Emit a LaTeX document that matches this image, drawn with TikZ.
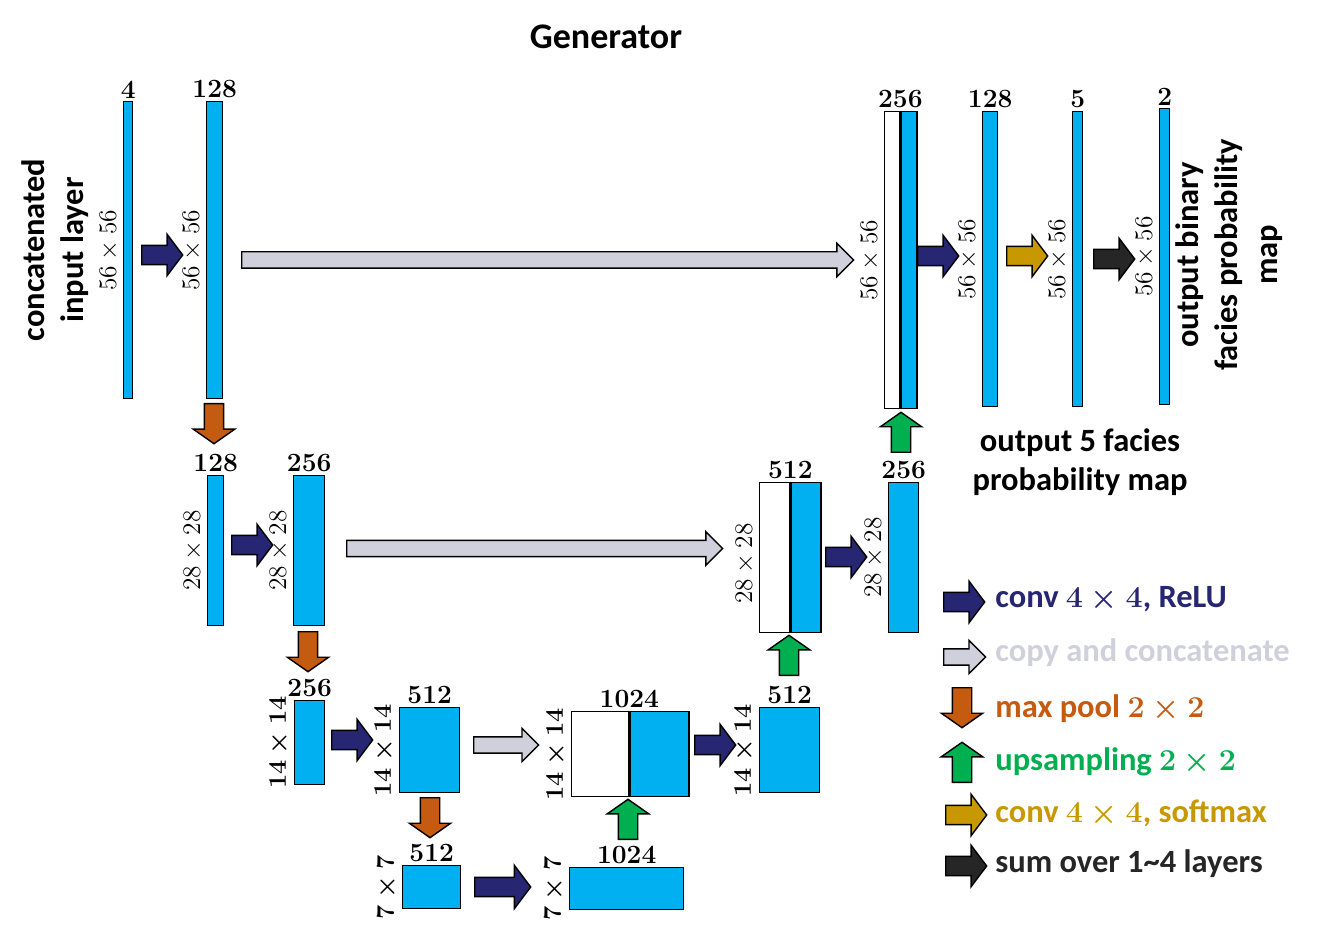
\documentclass[tikz,border=0pt]{standalone}
\usepackage{fontspec}
\usepackage{tikz}
\usetikzlibrary{shapes.arrows}
\newfontfamily\calibri{Carlito}

\definecolor{fmapblue}{HTML}{00B0F0}
\definecolor{convcol}{HTML}{262673}
\definecolor{copycol}{HTML}{D0D0DC}
\definecolor{poolcol}{HTML}{C55A11}
\definecolor{upcol}{HTML}{00B050}
\definecolor{softcol}{HTML}{C89800}
\definecolor{sumcol}{HTML}{262626}

\tikzset{
  fmap/.style={draw, line width=0.8pt, fill=fmapblue, inner sep=0pt, anchor=north west},
  cmap/.style={fmap, fill=white},
  chlbl/.style={anchor=south, inner sep=1.5pt, font=\fontsize{15}{17}\selectfont\bfseries},
  dimlbl/.style={rotate=90, anchor=south, inner sep=2.5pt, font=\fontsize{15.5}{18}\selectfont},
  dimbold/.style={dimlbl, font=\fontsize{15.5}{18}\selectfont\boldmath},
  txt/.style={align=center, inner sep=0pt, font=\calibri\bfseries\fontsize{18.5}{22.5}\selectfont},
  legtxt/.style={txt, anchor=base west, font=\calibri\bfseries\fontsize{18.5}{22.5}\selectfont\boldmath},
  blk/.style={single arrow, draw, line width=0.8pt, inner xsep=0pt, single arrow head indent=0pt, anchor=tail},
  convarr/.style={blk, fill=convcol, minimum height=0.82cm, inner ysep=0.18cm,
    single arrow head extend=0.22cm, single arrow tip angle=106},
  softarr/.style={convarr, fill=softcol},
  sumarr/.style={convarr, fill=sumcol},
  copyarr/.style={blk, fill=copycol, minimum height=0.84cm, inner ysep=0.15cm,
    single arrow head extend=0.17cm, single arrow tip angle=90},
  vertarr/.style={blk, minimum height=0.8cm, inner ysep=0.18cm,
    single arrow head extend=0.22cm, single arrow tip angle=110},
  poolarr/.style={vertarr, fill=poolcol, rotate=-90},
  uparr/.style={vertarr, fill=upcol, rotate=90}
}

\begin{document}
\begin{tikzpicture}[x=0.02cm, y=-0.02cm]
\useasboundingbox (0,0) rectangle (1320,939);
\node[txt, font=\calibri\bfseries\fontsize{20.5}{24}\selectfont] (title) at (606,37) {Generator};

% level 1, 56 x 56
\node[fmap, minimum width=0.18cm, minimum height=5.94cm] (in) at (123,101) {};
\node[fmap, minimum width=0.32cm, minimum height=5.94cm] (c1) at (206,101) {};
\node[cmap, minimum width=0.30cm, minimum height=5.94cm] (cat1a) at (884,111) {};
\node[fmap, minimum width=0.32cm, minimum height=5.94cm] (cat1b) at (cat1a.north east) {};
\node[fmap, minimum width=0.30cm, minimum height=5.90cm] (u1) at (982,111) {};
\node[fmap, minimum width=0.20cm, minimum height=5.90cm] (sm) at (1072,111) {};
\node[fmap, minimum width=0.20cm, minimum height=5.92cm] (out) at (1159,108) {};

\node[chlbl] (in-ch) at (in.north) {4};
\node[chlbl] (c1-ch) at (c1.north) {128};
\node[chlbl] (cat1-ch) at (cat1a.north east) {256};
\node[chlbl] (u1-ch) at (u1.north) {128};
\node[chlbl] (sm-ch) at (sm.north) {5};
\node[chlbl] (out-ch) at (out.north) {2};

\node[dimlbl] (in-sz) at (in.west) {$56\times56$};
\node[dimlbl] (c1-sz) at (c1.west) {$56\times56$};
\node[dimlbl] (cat1-sz) at (cat1a.west) {$56\times56$};
\node[dimlbl] (u1-sz) at (u1.west) {$56\times56$};
\node[dimlbl] (sm-sz) at (sm.west) {$56\times56$};
\node[dimlbl] (out-sz) at (out.west) {$56\times56$};

% level 2, 28 x 28
\node[fmap, minimum width=0.32cm, minimum height=3.00cm] (p1) at (207,475) {};
\node[fmap, minimum width=0.62cm, minimum height=3.00cm] (c2) at (293,475) {};
\node[cmap, minimum width=0.60cm, minimum height=3.00cm] (cat2a) at (759,482) {};
\node[fmap, minimum width=0.60cm, minimum height=3.00cm] (cat2b) at (cat2a.north east) {};
\node[fmap, minimum width=0.60cm, minimum height=3.00cm] (u2) at (888,482) {};

\node[chlbl] (p1-ch) at (p1.north) {128};
\node[chlbl] (c2-ch) at (c2.north) {256};
\node[chlbl] (cat2-ch) at (cat2a.north east) {512};
\node[chlbl] (u2-ch) at (u2.north) {256};

\node[dimlbl] (p1-sz) at (p1.west) {$28\times28$};
\node[dimlbl] (c2-sz) at (c2.west) {$28\times28$};
\node[dimlbl, xshift=-0.12cm] (cat2-sz) at (cat2a.west) {$28\times28$};
\node[dimlbl] (u2-sz) at (u2.west) {$28\times28$};

% level 3, 14 x 14
\node[fmap, minimum width=0.60cm, minimum height=1.68cm] (p2) at (294,700) {};
\node[fmap, minimum width=1.20cm, minimum height=1.70cm] (c3) at (399,707) {};
\node[cmap, minimum width=1.14cm, minimum height=1.70cm] (cat3a) at (571,711) {};
\node[fmap, minimum width=1.18cm, minimum height=1.70cm] (cat3b) at (cat3a.north east) {};
\node[fmap, minimum width=1.20cm, minimum height=1.70cm] (u3) at (759,707) {};

\node[chlbl] (p2-ch) at (p2.north) {256};
\node[chlbl] (c3-ch) at (c3.north) {512};
\node[chlbl] (cat3-ch) at (cat3a.north east) {1024};
\node[chlbl] (u3-ch) at (u3.north) {512};

\node[dimbold] (p2-sz) at (p2.west) {$14\times14$};
\node[dimbold] (c3-sz) at (c3.west) {$14\times14$};
\node[dimbold] (cat3-sz) at (cat3a.west) {$14\times14$};
\node[dimbold] (u3-sz) at (u3.west) {$14\times14$};

% level 4, 7 x 7
\node[fmap, minimum width=1.16cm, minimum height=0.86cm] (p3) at (402,865) {};
\node[fmap, minimum width=2.28cm, minimum height=0.84cm] (c4) at (569,867) {};

\node[chlbl] (p3-ch) at (p3.north) {512};
\node[chlbl] (c4-ch) at (c4.north) {1024};

\node[dimbold] (p3-sz) at (p3.west) {$7\times7$};
\node[dimbold] (c4-sz) at (c4.west) {$7\times7$};

% operations (placed by their tails)
\node[convarr] (op-c1) at (141,255) {};
\node[copyarr, minimum height=12.24cm] (op-cp1) at (241,260) {};
\node[convarr] (op-u1) at (917,256) {};
\node[softarr] (op-sm) at (1006,256) {};
\node[sumarr] (op-sum) at (1093,259) {};
\node[poolarr] (op-p1) at (214,403) {};
\node[uparr] (op-up1) at (901,453) {};

\node[convarr] (op-c2) at (231,545) {};
\node[copyarr, minimum height=7.52cm] (op-cp2) at (346,548.5) {};
\node[convarr] (op-u2) at (825,557) {};
\node[poolarr] (op-p2) at (308,631) {};
\node[uparr] (op-up2) at (789,676) {};

\node[convarr] (op-c3) at (331,740) {};
\node[copyarr, minimum height=1.30cm] (op-cp3) at (473,745) {};
\node[convarr] (op-u3) at (694,745) {};
\node[poolarr] (op-p3) at (430,797) {};
\node[uparr] (op-up3) at (628,840) {};

\node[convarr, minimum height=1.12cm, single arrow head extend=0.24cm] (op-c4) at (474,887) {};

% texts
\node[txt, rotate=90] (in-txt) at (55,250) {concatenated\\input layer};
\node[txt, rotate=90] (out-txt) at (1229,255) {output binary\\facies probability\\map};
\node[txt] (sm-txt) at (1080,462) {output 5 facies\\probability map};

% legend
\node[convarr] (lg-conv) at (943,602) {};
\node[copyarr] (lg-copy) at (943,657) {};
\node[poolarr] (lg-pool) at (962,687) {};
\node[uparr] (lg-up) at (962,783) {};
\node[softarr] (lg-soft) at (945,815) {};
\node[sumarr] (lg-sum) at (945,866) {};

\node[legtxt, text=convcol] (lg-conv-t) at (995,607) {conv $4\times4$, ReLU};
\node[legtxt, text=copycol] (lg-copy-t) at (995,662) {copy and concatenate};
\node[legtxt, text=poolcol] (lg-pool-t) at (995,717) {max pool $2\times2$};
\node[legtxt, text=upcol] (lg-up-t) at (995,770) {upsampling $2\times2$};
\node[legtxt, text=softcol] (lg-soft-t) at (995,822) {conv $4\times4$, softmax};
\node[legtxt, text=sumcol] (lg-sum-t) at (995,872) {sum over 1\textasciitilde 4 layers};
\end{tikzpicture}
\end{document}
